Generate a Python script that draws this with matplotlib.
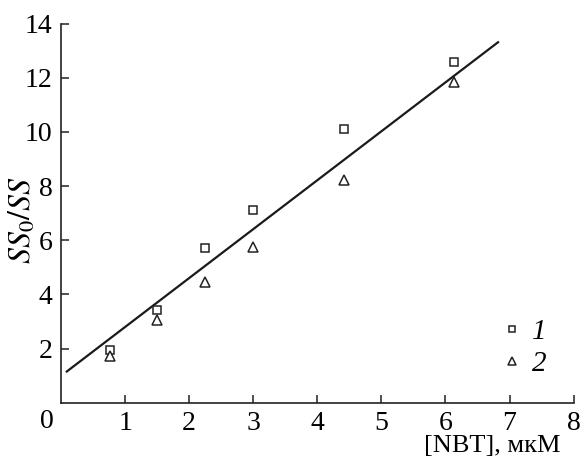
import matplotlib.pyplot as plt
import numpy as np

plt.rcParams['font.family'] = ['Liberation Serif', 'DejaVu Serif']
plt.rcParams['mathtext.fontset'] = 'stix'

# data
nbt = [0.76, 1.50, 2.25, 2.99, 4.41, 6.14]
ratio_1 = [1.95, 3.41, 5.73, 7.13, 10.10, 12.59]
ratio_2 = [1.72, 3.05, 4.47, 5.76, 8.22, 11.85]
fit_x = [0.09, 6.82]
fit_slope = 1.807
fit_intercept = 0.99

xticks = [1, 2, 3, 4, 5, 6, 7, 8]
yticks = [2, 4, 6, 8, 10, 12, 14]

fig = plt.figure(figsize=(5.8, 4.58), dpi=100)
ax = fig.add_axes([0.1052, 0.1207, 0.8838, 0.8276])

fx = np.array(fit_x)
ax.plot(fx, fit_slope * fx + fit_intercept, color='#1a1a1a', lw=1.6)
ax.plot(nbt, ratio_1, ls='none', marker='s', ms=5.5, mfc='white', mec='#222222',
        mew=1.1, label='1')
ax.plot(nbt, ratio_2, ls='none', marker='^', ms=7, mfc='white', mec='#222222',
        mew=1.1, label='2')

ax.set_xlim(0, 8)
ax.set_ylim(0, 14)
ax.set_xticks(xticks)
ax.set_yticks(yticks)
ax.spines['top'].set_visible(False)
ax.spines['right'].set_visible(False)
for s in ['left', 'bottom']:
    ax.spines[s].set_linewidth(1.2)
    ax.spines[s].set_color('#222222')
ax.tick_params(direction='in', length=6, width=1.1, color='#222222',
               labelsize=20, pad=6)

fig.text(47 / 580, 1 - 421 / 458, '0', fontsize=20, ha='center', va='center')
fig.text(23 / 580, 1 - 220 / 458, '$SS_\\mathrm{0}/SS$', fontsize=23,
         rotation=90, ha='center', va='center')
fig.text(560 / 580, 1 - 446 / 458, '[NBT], мкМ', fontsize=19,
         ha='right', va='center')

leg = ax.legend(loc='upper left', bbox_to_anchor=(0.822, 0.26), frameon=False,
                prop={'style': 'italic', 'size': 21}, markerscale=0.75,
                handlelength=1.0, handletextpad=0.2, labelspacing=0.18,
                borderpad=0)

fig.savefig('out.png', dpi=100)
